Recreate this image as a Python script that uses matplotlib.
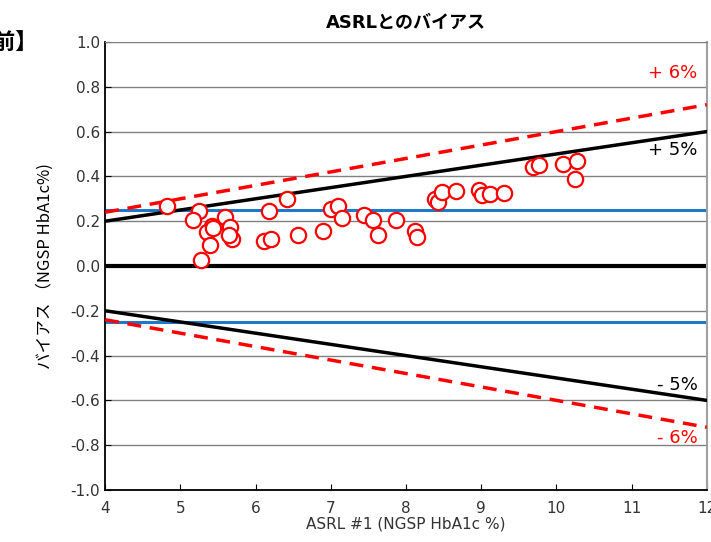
import numpy as np
import matplotlib
matplotlib.use("Agg")
import matplotlib.pyplot as plt

plt.rcParams['font.family'] = ['DejaVu Sans', 'Noto Sans CJK JP']

# measured values (ASRL #1, bias)
asrl = [4.82, 5.25, 5.17, 5.59, 5.42, 5.35, 5.44, 5.66, 5.69, 5.65, 5.40, 5.27,
        6.18, 6.42, 6.11, 6.21, 6.57, 6.90, 7.00, 7.10, 7.15, 7.44, 7.56, 7.63,
        7.87, 8.12, 8.15, 8.39, 8.43, 8.48, 8.66, 8.97, 9.01, 9.12, 9.30,
        9.69, 9.77, 10.09, 10.27, 10.25]
bias = [0.268, 0.245, 0.205, 0.22, 0.18, 0.15, 0.17, 0.175, 0.12, 0.14, 0.094, 0.027,
        0.245, 0.30, 0.11, 0.12, 0.14, 0.156, 0.254, 0.27, 0.214, 0.226, 0.205, 0.138,
        0.205, 0.156, 0.13, 0.30, 0.286, 0.33, 0.335, 0.34, 0.317, 0.32, 0.325,
        0.44, 0.45, 0.455, 0.47, 0.39]

xlim = [4, 12]
yticks = [-1.0, -0.8, -0.6, -0.4, -0.2, 0.0, 0.2, 0.4, 0.6, 0.8, 1.0]
ylabels = ['-1.0', '-0.8', '-0.6', '-0.4', '-0.2', '0.0', '0.2', '0.4', '0.6', '0.8', '1.0']
pct5 = 0.05
pct6 = 0.06
limit = 0.25

fig = plt.figure(figsize=(7.11, 5.42), dpi=100)
ax = fig.add_axes([0.148, 0.096, 0.846, 0.8265])

xs = np.array(xlim, dtype=float)

# horizontal grid
for yv in yticks:
    ax.axhline(yv, color='#808080', lw=1.0, zorder=1)

ax.axhline(0, color='black', lw=3, zorder=2)
ax.axhline(limit, color='#1f78c8', lw=2.2, zorder=2)
ax.axhline(-limit, color='#1f78c8', lw=2.2, zorder=2)

ax.plot(xs, pct5 * xs, color='black', lw=2.5, zorder=3)
ax.plot(xs, -pct5 * xs, color='black', lw=2.5, zorder=3)
ax.plot(xs, pct6 * xs, color='red', lw=2.5, ls=(0, (4, 2.5)), zorder=3)
ax.plot(xs, -pct6 * xs, color='red', lw=2.5, ls=(0, (4, 2.5)), zorder=3)

ax.plot(asrl, bias, 'o', ms=11, mfc='white', mec='red', mew=1.6, zorder=4)

ax.text(11.88, 0.86, '+ 6%', color='red', fontsize=13, ha='right', va='center')
ax.text(11.88, 0.52, '+ 5%', color='black', fontsize=13, ha='right', va='center')
ax.text(11.88, -0.53, '- 5%', color='black', fontsize=13, ha='right', va='center')
ax.text(11.88, -0.77, '- 6%', color='red', fontsize=13, ha='right', va='center')

ax.set_xlim(xlim)
ax.set_ylim(-1.0, 1.0)
ax.set_xticks(range(4, 13))
ax.set_yticks(yticks)
ax.set_yticklabels(ylabels)
ax.tick_params(direction='in', labelsize=11, colors='black', labelcolor='#333333', length=4)
ax.tick_params(axis='x', pad=8)
ax.spines['left'].set_color('black')
ax.spines['bottom'].set_color('black')
ax.spines['left'].set_linewidth(1.3)
ax.spines['bottom'].set_linewidth(1.3)
ax.spines['top'].set_color('#808080')
ax.spines['right'].set_color('#a0a0a0')
ax.spines['right'].set_linewidth(1.5)

ax.set_title('ASRLとのバイアス', fontsize=13, fontweight='bold',
             family=['DejaVu Sans', 'Noto Sans CJK JP'], pad=10)
ax.set_xlabel('ASRL #1 (NGSP HbA1c %)', fontsize=11, color='#333333', labelpad=0)
ax.set_ylabel('バイアス （NGSP HbA1c%)', fontsize=12, color='black',
              family=['Noto Sans CJK JP', 'DejaVu Sans'], labelpad=12)

fig.text(-0.01, 0.922, '前】', fontsize=16, fontweight='bold', ha='left', va='center',
         family=['Noto Sans CJK JP', 'DejaVu Sans'])

fig.savefig('out.png', dpi=100)
